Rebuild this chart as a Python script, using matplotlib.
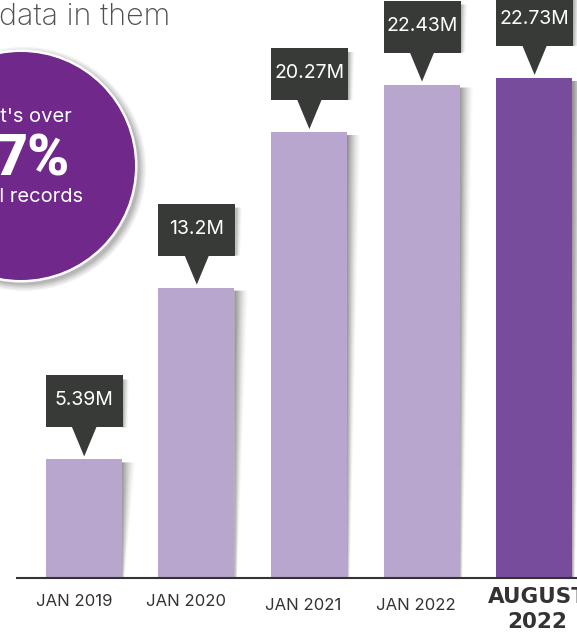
import matplotlib
matplotlib.use("Agg")
import matplotlib.pyplot as plt
from matplotlib.patches import Rectangle, Polygon, Ellipse

# ---------------- data ----------------
categories = ["JAN 2019", "JAN 2020", "JAN 2021", "JAN 2022", "AUGUST\n2022"]
values = [5.39, 13.2, 20.27, 22.43, 22.73]
value_labels = ["5.39M", "13.2M", "20.27M", "22.43M", "22.73M"]
highlight = [False, False, False, False, True]
title_text = "data in them"
circle_lines = ["That's over", "7%", "of all records"]

# ---------------- layout (pixels) ----------------
W, H = 577, 633
P = 112.6          # px between bar centres
C0 = 83.7          # px x of first bar centre
BASE = 578.0       # px (from top) of baseline
SY = 22.0          # px per million
BAR_W = 76.0

LIGHT = "#b9a6cf"
DARK = "#774c9d"
BOX = "#383a38"
CIRC = "#70288a"
TXT = "#333333"

fig = plt.figure(figsize=(W / 100, H / 100), dpi=100)
ax = fig.add_axes([0, 0, 1, 1])
ax.set_xlim(-C0 / P, (W - C0) / P)
ax.set_ylim(-(H - BASE) / SY, BASE / SY)
ax.axis("off")


def dx(px):
    return px / P


def dy(px):
    return px / SY


def X(px):
    return (px - C0) / P


def Y(py_top):
    return (BASE - py_top) / SY


def wedge_shadow(xr, ytop, ybot, wt, wb, a0=0.55, n=14, z=1):
    for k in range(n):
        f0, f1 = k / n, (k + 1) / n
        poly = Polygon([(xr + f0 * wt, ytop), (xr + f1 * wt, ytop),
                        (xr + f1 * wb, ybot), (xr + f0 * wb, ybot)],
                       closed=True, facecolor="#3a3a3a",
                       alpha=a0 * (1 - f0) ** 1.6, linewidth=0, zorder=z)
        ax.add_patch(poly)


# ---------------- circle ----------------
cx, cy, r = X(21), Y(166), 114
for k, a in enumerate([0.05, 0.05, 0.06, 0.07, 0.08]):
    rr = r + 8 - k * 1.5
    ax.add_patch(Ellipse((cx + dx(3), cy - dy(3)), 2 * dx(rr), 2 * dy(rr),
                         facecolor="#000000", alpha=a, linewidth=0, zorder=2))
ax.add_patch(Ellipse((cx, cy), 2 * dx(r + 2.5), 2 * dy(r + 2.5),
                     facecolor="white", linewidth=0, zorder=3))
ax.add_patch(Ellipse((cx, cy), 2 * dx(r), 2 * dy(r),
                     facecolor=CIRC, linewidth=0, zorder=4))
ax.text(X(72), Y(122), circle_lines[0], ha="right", va="baseline",
        color="white", fontsize=14.5, family="Inter", zorder=5)
ax.text(X(70), Y(175), circle_lines[1], ha="right", va="baseline",
        color="white", fontsize=41, family="Roboto", fontweight="black", zorder=5)
ax.text(X(83), Y(202), circle_lines[2], ha="right", va="baseline",
        color="white", fontsize=14.5, family="Inter", zorder=5)

# ---------------- title ----------------
ax.text(X(-1), Y(25), title_text, ha="left", va="baseline",
        color="#505050", fontsize=22, family="Inter", fontweight="light", zorder=5)

# ---------------- bars ----------------
xs = list(range(len(values)))
colors = [DARK if h else LIGHT for h in highlight]
for x, v in zip(xs, values):
    xr = x + dx(BAR_W / 2)
    wedge_shadow(xr, v - dy(3), 0, dx(14), dx(3), a0=0.6, z=1)
ax.bar(xs, values, width=dx(BAR_W), color=colors, linewidth=0, zorder=3)
ax.plot([X(16), X(W + 5)], [0, 0], color=TXT, linewidth=1.5,
        solid_capstyle="butt", zorder=4)

# ---------------- callouts ----------------
GAP, TRI, BH, BW, TW = 3, 29, 52, 77, 25
for x, v, lab in zip(xs, values, value_labels):
    tip = v + dy(GAP)
    b0 = tip + dy(TRI)
    b1 = b0 + dy(BH)
    xc = x + dx(0.5)
    wedge_shadow(xc + dx(BW / 2), b1 - dy(4), b0, dx(7), dx(5), a0=0.45, n=8, z=5)
    ax.add_patch(Rectangle((xc - dx(BW / 2), b0), dx(BW), dy(BH),
                           facecolor=BOX, linewidth=0, zorder=6))
    ax.add_patch(Polygon([(xc - dx(TW / 2), b0 + dy(1)), (xc + dx(TW / 2), b0 + dy(1)),
                          (xc, tip)], closed=True, facecolor=BOX,
                         linewidth=0, zorder=6))
    ax.text(xc, (b0 + b1) / 2 + dy(1), lab, ha="center", va="center",
            color="white", fontsize=14, family="Inter", zorder=7)

# ---------------- category labels ----------------
label_dx = [-9, -10, -6, -6, 3]   # px offsets of label centres from bar centres
label_y = [602, 602, 605, 605, 603]
for x, cat, h, ox, ly in zip(xs, categories, highlight, label_dx, label_y):
    if h:
        for j, line in enumerate(cat.split("\n")):
            ax.text(x + dx(ox), Y(ly + 25 * j), line, ha="center", va="baseline",
                    color=TXT, fontsize=15.5, family="DejaVu Sans",
                    fontweight="bold", zorder=5)
    else:
        ax.text(x + dx(ox), Y(ly), cat, ha="center", va="center", color=TXT,
                fontsize=12, family="Inter", zorder=5)

fig.savefig("out.png", dpi=100, facecolor="white")
